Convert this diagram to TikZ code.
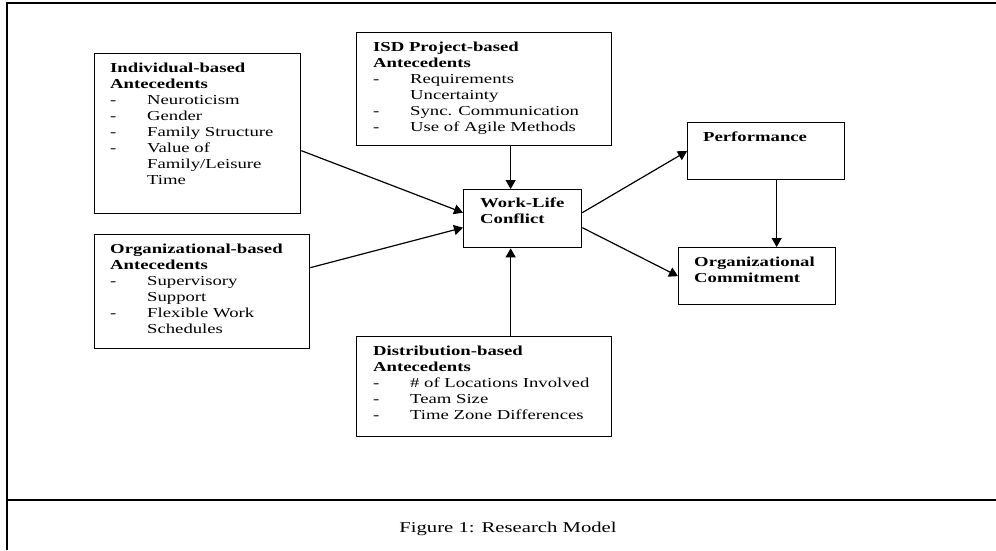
\documentclass[tikz,border=0pt]{standalone}
\usepackage{graphicx}
\usepackage{fontspec}
\setmainfont{Liberation Serif}
\usetikzlibrary{arrows.meta}

\newcommand{\wbox}[1]{\scalebox{1.365}[1]{\begin{tabular}{@{}l@{}}#1\end{tabular}}}
\newcommand{\itm}[1]{\makebox[27.1pt][l]{-}#1}
\newcommand{\cont}[1]{\hspace*{27.1pt}#1}

\begin{document}
\begin{tikzpicture}[x=1pt,y=-1pt,
    >={Triangle[length=9pt,width=10pt]},
    box/.style={draw,line width=1.3pt,anchor=north west,inner sep=0pt},
    txt/.style={anchor=north west,inner sep=0pt,font=\fontsize{13.7}{16}\selectfont},
    arr/.style={->,line width=1.2pt}]
    \useasboundingbox (0,0) rectangle (996,550);

    % frame
    \draw[line width=1.2pt] (7,550) -- (7,3) -- (996,3);
    \draw[line width=1.2pt] (7,500) -- (996,500);

    % boxes
    \node[box,minimum width=206pt,minimum height=160pt] (ind) at (94,53) {};
    \node[box,minimum width=215pt,minimum height=114pt] (org) at (94,234) {};
    \node[box,minimum width=255pt,minimum height=113pt] (isd) at (356,32) {};
    \node[box,minimum width=255pt,minimum height=100pt] (dist) at (356,336) {};
    \node[box,minimum width=118pt,minimum height=58pt] (wlc) at (463,189) {};
    \node[box,minimum width=157pt,minimum height=57pt] (perf) at (687,122) {};
    \node[box,minimum width=157pt,minimum height=57pt] (oc) at (678,247) {};

    % texts
    \node[txt] (indtxt) at (110,60.8) {\wbox{\textbf{Individual-based}\\\textbf{Antecedents}\\
        \itm{Neuroticism}\\\itm{Gender}\\\itm{Family Structure}\\\itm{Value of}\\
        \cont{Family/Leisure}\\\cont{Time}}};
    \node[txt] (orgtxt) at (110,241.8) {\wbox{\textbf{Organizational-based}\\\textbf{Antecedents}\\
        \itm{Supervisory}\\\cont{Support}\\\itm{Flexible Work}\\\cont{Schedules}}};
    \node[txt] (isdtxt) at (373,39.8) {\wbox{\textbf{ISD Project-based}\\\textbf{Antecedents}\\
        \itm{Requirements}\\\cont{Uncertainty}\\\itm{Sync. Communication}\\\itm{Use of Agile Methods}}};
    \node[txt] (disttxt) at (373,343.8) {\wbox{\textbf{Distribution-based}\\\textbf{Antecedents}\\
        \itm{\# of Locations Involved}\\\itm{Team Size}\\\itm{Time Zone Differences}}};
    \node[txt] (wlctxt) at (480,195.8) {\wbox{\textbf{Work-Life}\\\textbf{Conflict}}};
    \node[txt] (perftxt) at (703,129.8) {\wbox{\textbf{Performance}}};
    \node[txt] (octxt) at (694,254.8) {\wbox{\textbf{Organizational}\\\textbf{Commitment}}};

    % arrows
    \draw[arr] ([yshift=-17pt]ind.east) -- ([yshift=6pt]wlc.west);
    \draw[arr] ([yshift=24pt]org.east) -- ([yshift=-9pt]wlc.west);
    \draw[arr] ([xshift=26.5pt]isd.south) -- ([xshift=-12pt]wlc.north);
    \draw[arr] ([xshift=26.5pt]dist.north) -- ([xshift=-12pt]wlc.south);
    \draw[arr] ([yshift=6pt]wlc.east) -- (perf.west);
    \draw[arr] ([yshift=-9pt]wlc.east) -- (oc.west);
    \draw[arr] ([xshift=10.5pt]perf.south) -- ([xshift=19.5pt]oc.north);

    \node[anchor=base,font=\fontsize{15}{18}\selectfont] (cap) at (508,532) {\scalebox{1.38}[1]{Figure 1: Research Model}};
\end{tikzpicture}
\end{document}
